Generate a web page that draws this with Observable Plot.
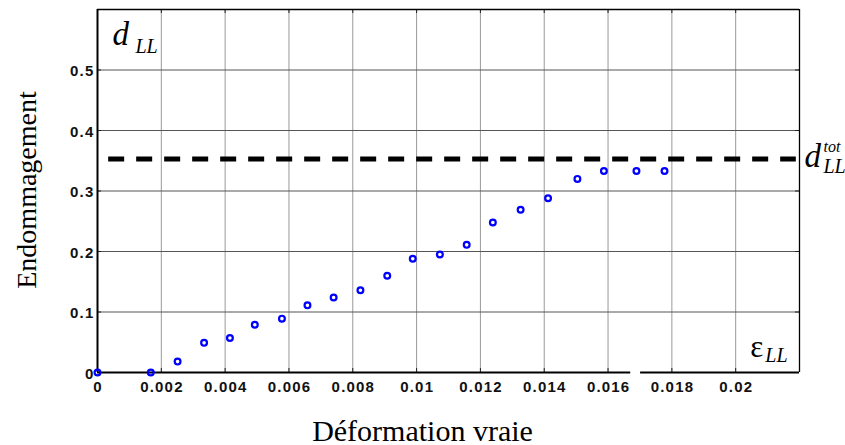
<!DOCTYPE html>
<html><head><meta charset="utf-8">
<script src="https://cdn.jsdelivr.net/npm/d3@7"></script>
<script src="https://cdn.jsdelivr.net/npm/@observablehq/plot@0.6"></script>
<style>
body{margin:0;background:#fff;}
#chart svg{display:block;}
</style></head><body><div id="chart"></div>
<script>
// Data
const strain = [0, 0.00167, 0.00251, 0.00334, 0.00415, 0.00493, 0.00578, 0.00658, 0.00740, 0.00824, 0.00908, 0.00988, 0.01073, 0.01157, 0.01239, 0.01326, 0.01412, 0.01504, 0.01587, 0.01689, 0.01777];
const damage = [0, 0, 0.018, 0.049, 0.057, 0.079, 0.089, 0.111, 0.124, 0.136, 0.160, 0.188, 0.195, 0.211, 0.248, 0.269, 0.288, 0.320, 0.333, 0.333, 0.333];
const dTot = 0.353;
const dTotExtent = [0.00035, 0.0219];
const xDomain = [0, 0.022];
const yDomain = [0, 0.6];
const xTicks = [0, 0.002, 0.004, 0.006, 0.008, 0.01, 0.012, 0.014, 0.016, 0.018, 0.02];
const xTickLabels = ["0", "0.002", "0.004", "0.006", "0.008", "0.01", "0.012", "0.014", "0.016", "0.018", "0.02"];
const yTicks = [0, 0.1, 0.2, 0.3, 0.4, 0.5];
const yTickLabels = ["0", "0.1", "0.2", "0.3", "0.4", "0.5"];
const xAxisBreak = [0.01671, 0.01702];
const xLabel = "Déformation vraie";
const yLabel = "Endommagement";
const mainLabels = [
  {x: 0.00047, y: 0.5405, text: "d"},
  {x: 0.02216, y: 0.3391, text: "d"}
];
const epsLabel = [{x: 0.02046, y: 0.0248, text: "ε"}];
const subLabels = [
  {x: 0.00119, y: 0.5277, text: "LL"},
  {x: 0.02275, y: 0.3292, text: "LL"},
  {x: 0.02093, y: 0.01654, text: "LL"}
];
const supLabels = [{x: 0.02275, y: 0.3639, text: "tot"}];

const points = strain.map((s, i) => ({strain: s, damage: damage[i]}));
const threshold = [{y: dTot, x1: dTotExtent[0], x2: dTotExtent[1]}];
const bottomSegments = [
  {x1: xDomain[0], x2: xAxisBreak[0]},
  {x1: xAxisBreak[1], x2: xDomain[1]}
];
const xTickData = xTicks.map((v, i) => ({v, label: xTickLabels[i]}));
const yTickData = yTicks.map((v, i) => ({v, label: yTickLabels[i]}));

const serif = "'Liberation Serif', 'Times New Roman', serif";
const sans = "'Liberation Sans', Arial, sans-serif";

const W = 845, H = 445, mL = 97, mR = 46, mT = 9, mB = 73;
const frameW = W - mL - mR, frameH = H - mT - mB, tick = 4;

const chart = Plot.plot({
  width: W,
  height: H,
  marginLeft: mL,
  marginRight: mR,
  marginTop: mT,
  marginBottom: mB,
  style: {fontFamily: sans, background: "#fff", overflow: "visible"},
  x: {domain: xDomain, axis: null},
  y: {domain: yDomain, axis: null},
  marks: [
    Plot.gridX(xTicks.slice(1), {stroke: "#999", strokeOpacity: 1}),
    Plot.gridY(yTicks.slice(1), {stroke: "#555", strokeOpacity: 1}),
    Plot.ruleX(xTicks, {insetBottom: frameH - tick, stroke: "#222"}),
    Plot.ruleX(xTicks, {insetTop: frameH - tick, stroke: "#222"}),
    Plot.ruleY(yTicks, {insetLeft: frameW - tick, stroke: "#222"}),
    Plot.ruleY(yTicks, {insetRight: frameW - tick, stroke: "#222"}),
    Plot.text(xTickData, {x: "v", text: "label", frameAnchor: "bottom", textAnchor: "middle", lineAnchor: "top", dx: 0.6, dy: 9, fontFamily: sans, fontSize: 15, fontWeight: "bold", fill: "#111"}),
    Plot.text(yTickData, {y: "v", text: "label", frameAnchor: "left", textAnchor: "end", lineAnchor: "middle", dx: -3, dy: 1.5, fontFamily: sans, fontSize: 15, fontWeight: "bold", fill: "#111"}),
    Plot.ruleY(threshold, {y: "y", x1: "x1", x2: "x2", stroke: "black", strokeWidth: 5, strokeDasharray: "16,12"}),
    Plot.ruleY([yDomain[1]], {stroke: "black", strokeWidth: 1.3}),
    Plot.ruleX([xDomain[1]], {stroke: "black", strokeWidth: 1.3}),
    Plot.ruleX([xDomain[0]], {stroke: "black", strokeWidth: 2}),
    Plot.ruleY(bottomSegments, {y: () => yDomain[0], x1: "x1", x2: "x2", stroke: "black", strokeWidth: 2}),
    Plot.dot(points, {x: "strain", y: "damage", r: 2.9, stroke: "#0000ff", strokeWidth: 2.2, fill: "none"}),
    Plot.text(mainLabels, {x: "x", y: "y", text: "text", textAnchor: "start", lineAnchor: "bottom", fontFamily: serif, fontStyle: "italic", fontSize: 33, fill: "#000"}),
    Plot.text(epsLabel, {x: "x", y: "y", text: "text", textAnchor: "start", lineAnchor: "bottom", fontFamily: serif, fontSize: 31, fill: "#000"}),
    Plot.text(subLabels, {x: "x", y: "y", text: "text", textAnchor: "start", lineAnchor: "bottom", fontFamily: serif, fontStyle: "italic", fontSize: 20, fill: "#000"}),
    Plot.text(supLabels, {x: "x", y: "y", text: "text", textAnchor: "start", lineAnchor: "bottom", fontFamily: serif, fontStyle: "italic", fontSize: 16, fill: "#000"}),
    Plot.text([xLabel], {frameAnchor: "bottom", textAnchor: "middle", dx: -26, dy: 68, lineAnchor: "bottom", fontFamily: serif, fontSize: 30, fill: "#000"}),
    Plot.text([yLabel], {frameAnchor: "left", textAnchor: "middle", dx: -62, dy: -1, rotate: -90, lineAnchor: "bottom", fontFamily: serif, fontSize: 28, fill: "#000"})
  ]
});
document.getElementById("chart").appendChild(chart);

// Wider spacing of the bold tick labels, as in the reference
chart.querySelectorAll('g[font-weight="bold"] text').forEach(t => { t.style.letterSpacing = "1.2px"; });
</script></body></html>
